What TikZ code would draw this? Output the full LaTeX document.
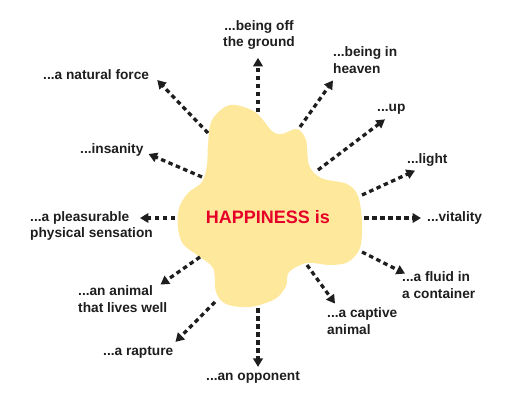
\documentclass[tikz,border=0pt]{standalone}
\usepackage{fontspec}
\setmainfont{Liberation Sans}
\usetikzlibrary{arrows.meta}
\definecolor{blobfill}{RGB}{254,232,155}
\definecolor{happyred}{RGB}{230,0,40}
\definecolor{ink}{RGB}{30,30,30}
\begin{document}
\begin{tikzpicture}[
      x=1pt, y=-1pt,
      every node/.style={font=\fontsize{13.7}{16.4}\selectfont\bfseries, text=ink},
      lbl/.style={inner sep=0pt, align=left},
      arr/.style={draw=ink, line width=3.3pt, dash pattern=on 4.5pt off 3.5pt,
                  -{Triangle[length=8.5pt,width=9.5pt]}}
    ]
    \useasboundingbox (0,0) rectangle (511,405);

    % Wolke
    \fill[blobfill] plot[smooth cycle, tension=0.55] coordinates {
      (230,105) (255,112) (272,131) (282,134) (297,129) (306,140) (309,165)
      (321,178) (347,184) (358,196) (362,222) (360,248) (348,262) (330,265)
      (307,263) (289,272) (286,286) (275,299) (250,307) (226,304) (216,292)
      (213,268) (197,255) (183,244) (178,228) (179,208) (188,193) (202,182)
      (207,165) (208,145) (212,120)};
    \node[font=\fontsize{18}{20}\selectfont\bfseries, text=happyred] (happy)
      at (268,217) {HAPPINESS is};

    % Startpunkte am Rand
    \coordinate (o-ground)  at (258,112);
    \coordinate (o-heaven)  at (300,127);
    \coordinate (o-up)      at (318,170);
    \coordinate (o-light)   at (362,195);
    \coordinate (o-vital)   at (364,218);
    \coordinate (o-fluid)   at (362,252);
    \coordinate (o-captive) at (307,265);
    \coordinate (o-oppo)    at (258,308);
    \coordinate (o-rapture) at (215,302);
    \coordinate (o-animal)  at (200,257);
    \coordinate (o-pleas)   at (175,218);
    \coordinate (o-insane)  at (202,177);
    \coordinate (o-force)   at (208,133);

    % Beschriftungen
    \node[lbl, align=center] (ground) at (259,35) {...being off\\the ground};
    \node[lbl, anchor=west] (heaven)  at (333,60)  {...being in\\heaven};
    \node[lbl, anchor=west] (up)      at (377,109) {...up};
    \node[lbl, anchor=west] (light)   at (407,160) {...light};
    \node[lbl, anchor=west] (vital)   at (427,218) {...vitality};
    \node[lbl, anchor=west] (fluid)   at (402,285) {...a fluid in\\a container};
    \node[lbl, anchor=west] (captive) at (327,321) {...a captive\\animal};
    \node[lbl] (oppo)                 at (253,377) {...an opponent};
    \node[lbl, anchor=west] (rapture) at (103,352) {...a rapture};
    \node[lbl, anchor=west] (animal)  at (78,299)  {...an animal\\that lives well};
    \node[lbl, anchor=west] (pleas)   at (30,226)  {...a pleasurable\\physical sensation};
    \node[lbl, anchor=west] (insane)  at (80,150)  {...insanity};
    \node[lbl, anchor=west] (force)   at (43,75)   {...a natural force};

    % Pfeile
    \draw[arr] (o-ground)  -- ([xshift=-1pt,yshift=-8pt]ground.south);
    \draw[arr] (o-heaven)  -- ([yshift=-7pt]heaven.south west);
    \draw[arr] (o-up)      -- ([xshift=8pt,yshift=-5pt]up.south west);
    \draw[arr] (o-light)   -- ([xshift=8pt,yshift=-4pt]light.south west);
    \draw[arr] (o-vital)   -- ([xshift=-6pt]vital.west);
    \draw[arr] (o-fluid)   -- ([xshift=3pt,yshift=-2pt]fluid.north west);
    \draw[arr] (o-captive) -- ([xshift=8pt,yshift=4pt]captive.north west);
    \draw[arr] (o-oppo)    -- ([xshift=5pt,yshift=4pt]oppo.north);
    \draw[arr] (o-rapture) -- ([xshift=2pt,yshift=4pt]rapture.north east);
    \draw[arr] (o-animal)  -- ([xshift=-7pt,yshift=1pt]animal.north east);
    \draw[arr] (o-pleas)   -- ([xshift=-13pt,yshift=8pt]pleas.east);
    \draw[arr] (o-insane)  -- ([xshift=5pt,yshift=-4pt]insane.east);
    \draw[arr] (o-force)   -- ([xshift=8pt,yshift=-5pt]force.east);
  \end{tikzpicture}
\end{document}
